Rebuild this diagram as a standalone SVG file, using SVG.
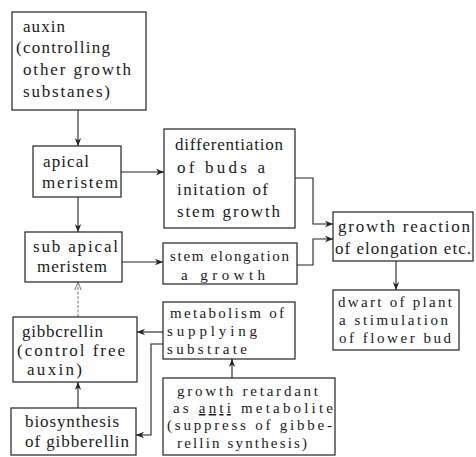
<svg xmlns="http://www.w3.org/2000/svg" width="476" height="457" viewBox="0 0 476 457">
<style>
.box{fill:#fff;stroke:#222;stroke-width:1.2}
.t{font-family:"Liberation Serif","DejaVu Serif",serif;font-size:17px;fill:#1a1a1a}
.s{font-size:15px}
.c{fill:none;stroke:#222;stroke-width:1.1}
.f{fill:none;stroke:#777;stroke-width:1;stroke-dasharray:3 1.5}
</style>
<defs>
<marker id="ah" viewBox="0 0 10 10" refX="10" refY="5" markerWidth="8" markerHeight="8" markerUnits="userSpaceOnUse" orient="auto">
<path d="M0,1 L10,5 L0,9 L3,5 Z" fill="#222"/>
</marker>
<marker id="ao" viewBox="0 0 10 10" refX="10" refY="5" markerWidth="8" markerHeight="8" markerUnits="userSpaceOnUse" orient="auto">
<path d="M0,1 L10,5 L0,9" fill="none" stroke="#777" stroke-width="1.2"/>
</marker>
</defs>
<rect width="476" height="457" fill="#fff"/>
<g id="connectors">
<line class="c" x1="78" y1="110" x2="78" y2="146" marker-end="url(#ah)"/>
<line class="c" x1="121" y1="172" x2="164" y2="172" marker-end="url(#ah)"/>
<line class="c" x1="78" y1="197" x2="78" y2="232" marker-end="url(#ah)"/>
<line class="c" x1="122" y1="262" x2="163" y2="262" marker-end="url(#ah)"/>
<polyline class="c" points="295,178 313,178 313,224 333,224" marker-end="url(#ah)"/>
<polyline class="c" points="297,265 313,265 313,239 333,239" marker-end="url(#ah)"/>
<line class="c" x1="396" y1="261" x2="396" y2="290" marker-end="url(#ah)"/>
<line class="f" x1="78" y1="317" x2="78" y2="282" marker-end="url(#ao)"/>
<line class="c" x1="163" y1="332" x2="137" y2="332" marker-end="url(#ah)"/>
<polyline class="c" points="163,344 151,344 151,435 136,435" marker-end="url(#ah)"/>
<line class="c" x1="78" y1="408" x2="78" y2="382" marker-end="url(#ah)"/>
<line class="c" x1="232" y1="378" x2="232" y2="359" marker-end="url(#ah)"/>
</g>
<g id="auxin">
<rect class="box" x="12" y="12" width="134" height="98"/>
<text class="t" x="23" y="32" textLength="42" lengthAdjust="spacing">auxin</text>
<text class="t" x="16" y="53" textLength="94" lengthAdjust="spacing">(controlling</text>
<text class="t" x="23" y="75" textLength="108" lengthAdjust="spacing">other growth</text>
<text class="t" x="23" y="97" textLength="87" lengthAdjust="spacing">substanes)</text>
</g>
<g id="apical">
<rect class="box" x="33" y="146" width="88" height="51"/>
<text class="t" x="43" y="167" textLength="46" lengthAdjust="spacing">apical</text>
<text class="t" x="42" y="188" textLength="76" lengthAdjust="spacing">meristem</text>
</g>
<g id="subapical">
<rect class="box" x="25" y="232" width="97" height="50"/>
<text class="t" x="33" y="252" textLength="85" lengthAdjust="spacing">sub apical</text>
<text class="t" x="37" y="272" textLength="70" lengthAdjust="spacing">meristem</text>
</g>
<g id="differentiation">
<rect class="box" x="164" y="129" width="131" height="99"/>
<text class="t" x="175" y="150" textLength="108" lengthAdjust="spacing">differentiation</text>
<text class="t" x="177" y="173" textLength="88" lengthAdjust="spacing">of buds a</text>
<text class="t" x="177" y="195" textLength="91" lengthAdjust="spacing">initation of</text>
<text class="t" x="177" y="217" textLength="103" lengthAdjust="spacing">stem growth</text>
</g>
<g id="stemelongation">
<rect class="box" x="163" y="243" width="134" height="41"/>
<text class="t s" x="170" y="261" textLength="119" lengthAdjust="spacing">stem elongation</text>
<text class="t s" x="181" y="280" textLength="84" lengthAdjust="spacing">a growth</text>
</g>
<g id="growthreaction">
<rect class="box" x="333" y="212" width="140" height="49"/>
<text class="t" x="338" y="232" textLength="132" lengthAdjust="spacing">growth reaction</text>
<text class="t" x="335" y="254" textLength="136" lengthAdjust="spacing">of elongation etc.</text>
</g>
<g id="dwarf">
<rect class="box" x="333" y="290" width="126" height="60"/>
<text class="t s" x="338" y="307" textLength="114" lengthAdjust="spacing">dwart of plant</text>
<text class="t s" x="339" y="325" textLength="109" lengthAdjust="spacing">a stimulation</text>
<text class="t s" x="339" y="343" textLength="112" lengthAdjust="spacing">of flower bud</text>
</g>
<g id="gibberellin">
<rect class="box" x="13" y="317" width="124" height="65"/>
<text class="t" x="22" y="337" textLength="81" lengthAdjust="spacing">gibbcrellin</text>
<text class="t" x="17" y="356" textLength="108" lengthAdjust="spacing">(control free</text>
<text class="t" x="27" y="375" textLength="55" lengthAdjust="spacing">auxin)</text>
</g>
<g id="biosynthesis">
<rect class="box" x="11" y="408" width="125" height="47"/>
<text class="t" x="25" y="427" textLength="94" lengthAdjust="spacing">biosynthesis</text>
<text class="t" x="25" y="447" textLength="104" lengthAdjust="spacing">of gibberellin</text>
</g>
<g id="metabolism">
<rect class="box" x="163" y="302" width="132" height="57"/>
<text class="t s" x="170" y="318" textLength="114" lengthAdjust="spacing">metabolism of</text>
<text class="t s" x="167" y="336" textLength="90" lengthAdjust="spacing">supplying</text>
<text class="t s" x="167" y="354" textLength="80" lengthAdjust="spacing">substrate</text>
</g>
<g id="retardant">
<rect class="box" x="163" y="378" width="172" height="77"/>
<text class="t s" x="177" y="396" textLength="141" lengthAdjust="spacing">growth retardant</text>
<text class="t s" x="173" y="413" textLength="160" lengthAdjust="spacing">as <tspan text-decoration="underline">anti</tspan> metabolite</text>
<text class="t s" x="167" y="430" textLength="165" lengthAdjust="spacing">(suppress of gibbe-</text>
<text class="t s" x="177" y="448" textLength="130" lengthAdjust="spacing">rellin synthesis)</text>
</g>
</svg>
